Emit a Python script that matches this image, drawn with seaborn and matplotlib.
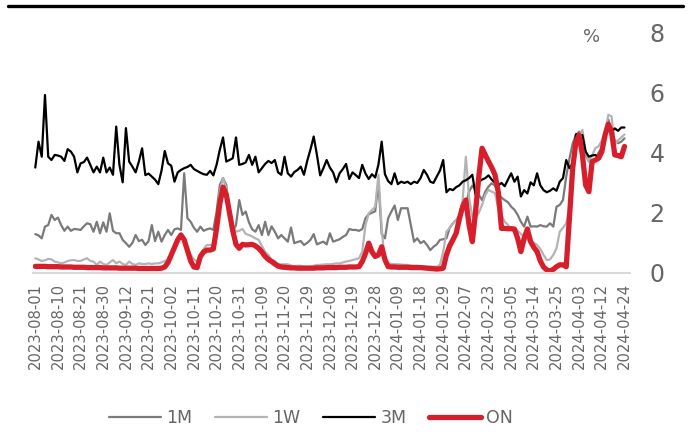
import numpy as np
import pandas as pd
import matplotlib
matplotlib.use("Agg")
import matplotlib.pyplot as plt
import seaborn as sns
from matplotlib.lines import Line2D

# business-day tick labels, one every 7 observations
tick_labels = [
    "2023-08-01", "2023-08-10", "2023-08-21", "2023-08-30", "2023-09-12",
    "2023-09-21", "2023-10-02", "2023-10-11", "2023-10-20", "2023-10-31",
    "2023-11-09", "2023-11-20", "2023-11-29", "2023-12-08", "2023-12-19",
    "2023-12-28", "2024-01-09", "2024-01-18", "2024-01-29", "2024-02-07",
    "2024-02-23", "2024-03-05", "2024-03-14", "2024-03-25", "2024-04-03",
    "2024-04-12", "2024-04-24",
]

rate_3m = [
    3.50, 4.36, 3.86, 5.91, 3.86, 3.75, 3.92,
    3.90, 3.86, 3.72, 4.11, 4.03, 3.86, 3.34,
    3.64, 3.68, 3.83, 3.59, 3.34, 3.53, 3.34,
    3.83, 3.34, 3.50, 3.26, 4.86, 3.59, 3.01,
    4.81, 3.70, 3.53, 3.34, 3.70, 4.14, 3.25,
    3.30, 3.20, 3.10, 2.95, 3.40, 4.05, 3.64,
    3.56, 3.03, 3.34, 3.42, 3.48, 3.52, 3.59,
    3.45, 3.39, 3.33, 3.28, 3.26, 3.39, 3.24,
    3.59, 4.09, 4.50, 3.70, 3.75, 3.81, 4.50,
    3.59, 3.62, 3.67, 3.92, 3.59, 3.86, 3.34,
    3.48, 3.62, 3.72, 3.65, 3.75, 3.34, 3.26,
    3.86, 3.31, 3.20, 3.35, 3.42, 3.53, 3.26,
    3.72, 4.10, 4.53, 3.92, 3.24, 3.48, 3.75,
    3.50, 3.34, 3.01, 3.31, 3.45, 3.62, 3.12,
    3.34, 3.25, 3.15, 3.59, 3.30, 3.12, 3.28,
    3.17, 3.60, 4.36, 3.28, 3.05, 2.95, 3.31,
    2.95, 3.03, 2.99, 3.03, 2.95, 3.03, 2.99,
    3.15, 3.42, 3.26, 3.03, 2.99, 3.20, 3.40,
    3.75, 2.68, 2.79, 2.75, 2.85, 2.91, 3.03,
    3.08, 3.15, 3.26, 2.59, 3.03, 3.10, 3.15,
    3.24, 3.10, 3.00, 2.91, 2.99, 2.88, 3.10,
    3.31, 3.03, 3.20, 2.54, 2.75, 2.64, 3.01,
    2.91, 3.31, 2.91, 2.75, 2.68, 2.73, 2.81,
    2.73, 3.03, 3.15, 3.75, 3.48, 3.64, 4.61,
    4.50, 4.58, 4.03, 3.86, 3.90, 3.92, 3.83,
    4.03, 4.69, 4.97, 4.69, 4.80, 4.72, 4.83,
    4.83,
]

rate_1m = [
    1.29, 1.25, 1.15, 1.54, 1.59, 1.93, 1.76,
    1.84, 1.59, 1.40, 1.54, 1.40, 1.46, 1.45,
    1.43, 1.55, 1.65, 1.62, 1.37, 1.70, 1.32,
    1.68, 1.37, 1.98, 1.40, 1.32, 1.32, 1.10,
    0.99, 0.87, 1.00, 1.26, 1.06, 1.10, 0.93,
    1.06, 1.59, 1.06, 1.37, 1.04, 1.26, 1.43,
    1.26, 1.45, 1.48, 1.43, 3.31, 1.82, 1.70,
    1.50, 1.37, 1.54, 1.40, 1.45, 1.48, 1.43,
    2.04, 2.92, 3.15, 2.92, 2.00, 1.37, 1.59,
    2.42, 1.93, 2.04, 1.68, 1.45, 1.37, 1.59,
    1.26, 1.70, 1.26, 1.55, 1.37, 1.15, 1.26,
    1.15, 1.04, 1.51, 0.99, 1.03, 1.06, 0.93,
    1.00, 1.10, 1.29, 0.95, 1.00, 1.04, 0.95,
    1.32, 1.04, 1.08, 1.12, 1.20, 1.26, 1.46,
    1.43, 1.43, 1.40, 1.46, 1.82, 1.95, 2.00,
    2.05, 3.00, 1.30, 1.15, 1.82, 2.04, 2.24,
    1.76, 2.15, 2.15, 2.15, 1.59, 1.04, 1.15,
    0.99, 1.06, 0.93, 0.76, 0.87, 0.95, 1.10,
    1.12, 1.15, 1.50, 1.65, 1.76, 1.87, 2.09,
    2.30, 2.70, 2.90, 2.76, 2.60, 2.42, 2.70,
    2.87, 2.98, 2.90, 2.65, 2.50, 2.42, 2.35,
    2.20, 2.10, 1.93, 1.70, 1.54, 1.87, 1.54,
    1.55, 1.54, 1.59, 1.55, 1.54, 1.65, 1.54,
    2.20, 2.26, 2.42, 3.20, 3.80, 4.30, 4.58,
    4.69, 4.31, 3.92, 3.70, 3.72, 3.75, 4.00,
    4.15, 4.69, 5.10, 4.70, 4.40, 4.31, 4.36,
    4.47,
]

rate_1w = [
    0.49, 0.45, 0.40, 0.42, 0.47, 0.45, 0.38,
    0.35, 0.32, 0.35, 0.40, 0.42, 0.43, 0.40,
    0.40, 0.45, 0.49, 0.40, 0.38, 0.27, 0.38,
    0.30, 0.27, 0.35, 0.43, 0.32, 0.38, 0.30,
    0.27, 0.38, 0.30, 0.27, 0.32, 0.30, 0.30,
    0.32, 0.30, 0.32, 0.32, 0.35, 0.40, 0.43,
    0.65, 0.95, 1.20, 1.32, 1.15, 0.80, 0.60,
    0.45, 0.38, 0.60, 0.80, 0.93, 0.93, 0.93,
    1.48, 2.70, 3.15, 2.81, 2.00, 1.59, 1.37,
    1.40, 1.46, 1.30, 1.26, 1.21, 1.15, 1.10,
    0.90, 0.70, 0.60, 0.45, 0.40, 0.29, 0.29,
    0.29, 0.29, 0.25, 0.21, 0.24, 0.24, 0.22,
    0.21, 0.22, 0.24, 0.27, 0.27, 0.28, 0.29,
    0.29, 0.30, 0.32, 0.32, 0.35, 0.38, 0.40,
    0.43, 0.46, 0.49, 0.71, 1.59, 1.98, 2.09,
    2.20, 3.26, 1.50, 0.30, 0.32, 0.30, 0.29,
    0.29, 0.28, 0.27, 0.27, 0.25, 0.24, 0.24,
    0.22, 0.21, 0.21, 0.21, 0.21, 0.21, 0.27,
    0.71, 1.37, 1.50, 1.65, 1.76, 1.90, 2.40,
    3.86, 2.50, 1.87, 1.82, 2.00, 2.26, 2.59,
    2.76, 2.70, 2.65, 2.15, 1.93, 1.70, 1.60,
    1.43, 1.45, 1.40, 1.30, 1.20, 1.10, 1.04,
    1.00, 0.93, 0.80, 0.60, 0.43, 0.45, 0.60,
    0.82, 1.37, 1.50, 1.65, 2.15, 3.48, 4.47,
    4.60, 4.75, 4.03, 3.70, 3.90, 4.15, 4.20,
    4.40, 4.69, 5.25, 5.20, 4.25, 4.40, 4.50,
    4.60,
]

rate_on = [
    0.22, 0.22, 0.22, 0.22, 0.21, 0.21, 0.21,
    0.21, 0.20, 0.20, 0.20, 0.20, 0.19, 0.19,
    0.19, 0.19, 0.18, 0.18, 0.18, 0.18, 0.18,
    0.17, 0.17, 0.17, 0.17, 0.17, 0.16, 0.16,
    0.16, 0.16, 0.16, 0.16, 0.15, 0.15, 0.15,
    0.15, 0.15, 0.15, 0.15, 0.16, 0.20, 0.35,
    0.60, 0.85, 1.10, 1.26, 1.10, 0.75, 0.40,
    0.20, 0.18, 0.55, 0.70, 0.76, 0.76, 0.80,
    1.48, 2.30, 2.85, 2.60, 2.00, 1.40, 0.95,
    0.82, 0.95, 0.93, 0.94, 0.95, 0.90, 0.82,
    0.70, 0.55, 0.45, 0.38, 0.30, 0.23, 0.20,
    0.19, 0.18, 0.17, 0.17, 0.16, 0.16, 0.16,
    0.16, 0.16, 0.16, 0.17, 0.17, 0.17, 0.18,
    0.18, 0.18, 0.18, 0.19, 0.19, 0.19, 0.20,
    0.20, 0.20, 0.21, 0.38, 0.65, 0.99, 0.70,
    0.55, 0.60, 0.87, 0.45, 0.21, 0.20, 0.20,
    0.19, 0.19, 0.19, 0.19, 0.18, 0.18, 0.18,
    0.18, 0.17, 0.16, 0.15, 0.14, 0.13, 0.14,
    0.16, 0.60, 0.90, 1.10, 1.32, 1.80, 2.20,
    2.42, 1.59, 1.04, 2.04, 3.20, 4.14, 3.92,
    3.70, 3.50, 3.26, 2.70, 1.48, 1.48, 1.47,
    1.47, 1.46, 1.15, 0.71, 1.15, 1.46, 1.04,
    0.85, 0.71, 0.40, 0.20, 0.10, 0.07, 0.12,
    0.21, 0.27, 0.27, 0.21, 1.82, 3.48, 4.36,
    4.58, 3.92, 2.92, 2.70, 3.70, 3.75, 3.81,
    4.03, 4.58, 4.94, 4.69, 3.92, 3.90, 3.86,
    4.20,
]

series_names = ["1M", "1W", "3M", "ON"]
series_colors = {"1M": "#7a7a7a", "1W": "#b3b3b3", "3M": "#000000", "ON": "#d71f2b"}
series_widths = {"1M": 1.6, "1W": 1.6, "3M": 1.6, "ON": 3.8}

wide = pd.DataFrame({"day": np.arange(len(rate_on)),
                     "1M": rate_1m, "1W": rate_1w, "3M": rate_3m, "ON": rate_on})
df = wide.melt(id_vars="day", var_name="tenor", value_name="rate")

sns.set_style("white")
plt.rcParams["font.family"] = ["DejaVu Sans"]
text_grey = "#666666"

fig = plt.figure(figsize=(6.92, 4.38), dpi=100)
ax = fig.add_axes([33 / 692, 1 - 273 / 438, (630 - 33) / 692, (273 - 32) / 438])

sns.lineplot(data=df, x="day", y="rate", hue="tenor", hue_order=series_names,
             size="tenor", size_order=series_names, sizes=series_widths,
             palette=series_colors, estimator=None, errorbar=None,
             legend=False, ax=ax)

ax.set_xlim(-0.7, len(rate_on) - 1 + 1.7)
ax.set_ylim(0, 8)
ax.set_xlabel("")
ax.set_ylabel("")

tick_pos = np.arange(0, len(rate_on), 7)
ax.set_xticks(tick_pos)
ax.set_xticklabels(tick_labels, rotation=90, fontsize=10.6, color=text_grey)
ax.yaxis.tick_right()
ax.set_yticks([0, 2, 4, 6, 8])
ax.set_yticklabels(["0", "2", "4", "6", "8"], fontsize=17, color=text_grey)
ax.tick_params(axis="x", length=0, pad=7)
ax.tick_params(axis="y", length=0, pad=14)

for side in ["top", "left", "right"]:
    ax.spines[side].set_visible(False)
ax.spines["bottom"].set_color("#d9d9d9")
ax.spines["bottom"].set_linewidth(1.5)

fig.text(592 / 692, 1 - 37 / 438, "%", ha="center", va="center",
         fontsize=13, color=text_grey)

# decorative rule across the top
fig.add_artist(Line2D([8 / 692, 683 / 692], [1 - 6 / 438, 1 - 6 / 438],
                      color="black", linewidth=2.4, transform=fig.transFigure))

handles = ax.get_lines()[:4]
fig.legend(handles, series_names, loc="center", bbox_to_anchor=(311 / 692, 1 - 418 / 438),
           ncol=4, frameon=False, fontsize=12.5, handlelength=3.0,
           handletextpad=0.3, columnspacing=1.3, labelcolor=text_grey)

fig.savefig("out.png", dpi=100)
